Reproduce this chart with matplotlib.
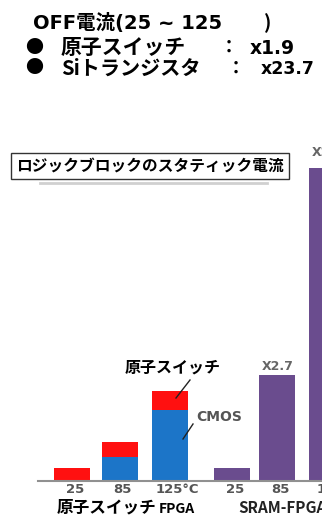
import matplotlib.pyplot as plt

plt.rcParams['font.family'] = ['Noto Sans CJK JP', 'DejaVu Sans']
LAT = ['DejaVu Sans', 'Noto Sans CJK JP']

# bar data (arbitrary units)
temps = ['25', '85', '125°C', '25', '85', '125']
cmos = [1, 24, 71]
atom_sw = [12, 15, 19]
sram = [13, 106, 313]
pos_atom = [0, 1, 2.05]
pos_sram = [3.37, 4.32, 5.37]

W, H = 322, 519
fig = plt.figure(figsize=(W / 100, H / 100), dpi=100)


def ft(x, y, s, **kw):
    # figure text in pixel coords (top-left origin)
    return fig.text(x / W, 1 - y / H, s, **kw)


# header text
ft(33, 23, 'OFF電流(25 ~ 125', fontsize=14, weight='bold', va='center', family=LAT)
ft(264, 23, ')', fontsize=14, weight='bold', va='center')
ft(25, 47, '●', fontsize=13, weight='bold', va='center')
ft(61, 47, '原子スイッチ', fontsize=15, weight='bold', va='center')
ft(220, 47, '：', fontsize=13, weight='bold', va='center')
ft(250, 48, 'x1.9', fontsize=13.5, weight='bold', va='center', family=LAT)
ft(25, 68, '●', fontsize=13, weight='bold', va='center')
ft(61, 68, 'Siトランジスタ', fontsize=14.5, weight='bold', va='center')
ft(227, 68, '：', fontsize=13, weight='bold', va='center')
ft(261, 69, 'x23.7', fontsize=12.5, weight='bold', va='center', family=LAT)

# chart
ax = fig.add_axes([38 / W, (H - 481) / H, 284 / W, 313 / H])
ax.bar(pos_atom, cmos, width=0.76, color='#1c75c8')
ax.bar(pos_atom, atom_sw, bottom=cmos, width=0.76, color='#ff1010')
ax.bar(pos_sram, sram, width=0.76, color='#6a4c8e', clip_on=False)
ax.set_xlim(-0.72, 5.26)
ax.set_ylim(0, 313)
ax.set_yticks([])
ax.set_xticks([])
for x, lab in zip(pos_atom + pos_sram, temps):
    if lab.endswith('C'):
        ax.text(x - 0.3, -2, lab, fontsize=9.5, weight='bold', color='#555555',
                ha='left', va='top', family=LAT, clip_on=False)
    else:
        ax.text(x + 0.06, -2, lab, fontsize=9.5, weight='bold', color='#555555',
                ha='center', va='top', family=LAT, clip_on=False)
for s in ['top', 'right', 'left']:
    ax.spines[s].set_visible(False)
ax.spines['bottom'].set_color('#909090')
ax.spines['bottom'].set_linewidth(1.5)

# annotations
ft(173, 368, '原子スイッチ', fontsize=11.5, weight='bold', ha='center', va='center')
ft(278, 367, 'X2.7', fontsize=9, weight='bold', color='#666666', ha='center', va='center', family=LAT)
ft(219, 417, 'CMOS', fontsize=10, weight='bold', color='#555555', ha='center', va='center', family=LAT)
fig.add_artist(plt.Line2D([190 / W, 176 / W], [1 - 380 / H, 1 - 398 / H], color='#222222', lw=1))
fig.add_artist(plt.Line2D([193 / W, 183 / W], [1 - 424 / H, 1 - 439 / H], color='#222222', lw=1))
ft(312, 153, 'X2', fontsize=9, weight='bold', color='#666666', va='center', family=LAT)

# box title
fig.add_artist(plt.Line2D([40 / W, 267 / W], [1 - 183 / H, 1 - 183 / H], color='#d0d0d0', lw=2))
ft(150, 166, 'ロジックブロックのスタティック電流', fontsize=11.3, weight='bold', ha='center', va='center',
   bbox=dict(boxstyle='square,pad=0.3', fc='white', ec='#333333', lw=1))

# group labels
ft(57, 507, '原子スイッチ', fontsize=12, weight='bold', va='center')
ft(159, 509, 'FPGA', fontsize=10, weight='bold', va='center')
ft(238, 508, 'SRAM-FPGA', fontsize=11, weight='bold', va='center', color='#222222')

fig.savefig('out.png', dpi=100, facecolor='white')
